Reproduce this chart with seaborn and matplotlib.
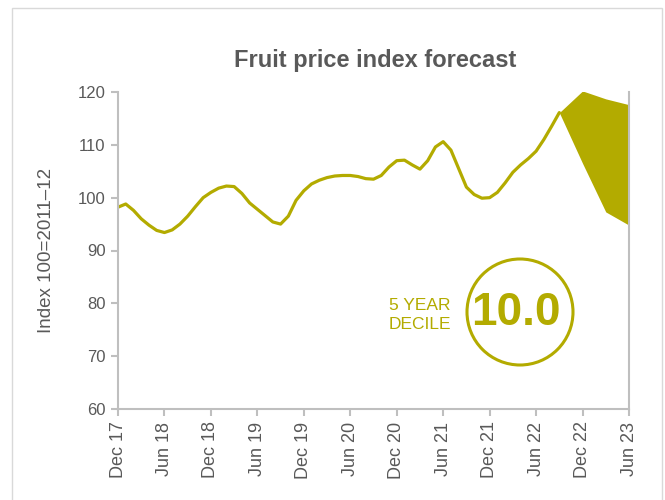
import numpy as np
import pandas as pd
import matplotlib
matplotlib.use("Agg")
import matplotlib.pyplot as plt
from matplotlib.patches import Ellipse, Rectangle
import seaborn as sns

# ---- data ----
# monthly index values, Dec 17 .. Sep 22
index_values = [98.2, 98.8, 97.6, 96.0, 94.8, 93.8, 93.4, 93.9, 95.0, 96.5,
                98.3, 100.0, 101.0, 101.8, 102.2, 102.1, 100.8, 99.0, 97.8, 96.6,
                95.4, 95.0, 96.5, 99.5, 101.3, 102.6, 103.3, 103.8, 104.1, 104.2,
                104.2, 104.0, 103.6, 103.5, 104.2, 105.8, 107.0, 107.1, 106.2, 105.4,
                107.0, 109.6, 110.6, 109.0, 105.5, 102.0, 100.6, 99.9, 100.0, 101.0,
                102.8, 104.8, 106.2, 107.4, 108.8, 111.0, 113.5, 116.1]
# forecast fan (quarterly): Sep 22, Dec 22, Mar 23, Jun 23 (month offsets from Dec 17)
fan_months = [57, 60, 63, 66]
fan_upper = [116.1, 120.2, 118.7, 117.6]
fan_lower = [116.1, 106.5, 97.3, 94.8]
tick_labels = ["Dec 17", "Jun 18", "Dec 18", "Jun 19", "Dec 19", "Jun 20",
               "Dec 20", "Jun 21", "Dec 21", "Jun 22", "Dec 22", "Jun 23"]
y_ticks = [60, 70, 80, 90, 100, 110, 120]
title = "Fruit price index forecast"
y_label = "Index 100=2011\u201312"
decile_value = "10.0"
decile_label = "5 YEAR\nDECILE"

OLIVE = "#b3ab00"
GREY_TXT = "#595959"
GREY_AX = "#bfbfbf"

sns.set_style("white")
plt.rcParams["font.family"] = ["Liberation Sans", "DejaVu Sans"]

df = pd.DataFrame({"month": np.arange(len(index_values)), "value": index_values})

fig = plt.figure(figsize=(6.65, 5.0), dpi=100)
W, H = 665, 500
ax = fig.add_axes([118 / W, 1 - 409 / H, (629 - 118) / W, (409 - 92) / H])

sns.lineplot(data=df, x="month", y="value", ax=ax, color=OLIVE, linewidth=2.3)
ax.fill_between(fan_months, fan_lower, fan_upper, color=OLIVE, linewidth=0)

ax.set_xlim(0, 66)
ax.set_ylim(60, 120)
ax.set_xticks(np.arange(0, 67, 6))
ax.set_xticklabels(tick_labels, rotation=90, fontsize=13, color=GREY_TXT)
ax.set_yticks(y_ticks)
ax.set_yticklabels([str(v) for v in y_ticks], fontsize=12, color=GREY_TXT)
ax.tick_params(axis="both", direction="out", length=5, width=1.5, color=GREY_AX,
               left=True, bottom=True, pad=4)
ax.set_xlabel("")
ax.set_ylabel(y_label, fontsize=13.5, color=GREY_TXT)
ax.yaxis.set_label_coords((55 - 118) / (629 - 118), 0.5)

for side in ["left", "bottom", "right"]:
    ax.spines[side].set_visible(True)
    ax.spines[side].set_color(GREY_AX)
    ax.spines[side].set_linewidth(1.5)
ax.spines["top"].set_visible(False)

# frame
fig.patches.append(Rectangle((12 / W, -0.05), (662 - 12) / W, 1.05 - 8 / H,
                             transform=fig.transFigure, fill=False,
                             edgecolor="#d9d9d9", linewidth=1.0, zorder=0))

fig.text(375 / W, 1 - 61 / H, title, ha="center", va="center",
         fontsize=17, fontweight="bold", color=GREY_TXT)

# decile circle
fig.patches.append(Ellipse((520 / W, 1 - 312 / H), 106 / W, 106 / H,
                           transform=fig.transFigure, fill=False,
                           edgecolor=OLIVE, linewidth=2.2, zorder=5))
fig.text(516 / W, 1 - 313 / H, decile_value, ha="center", va="center",
         fontsize=33, fontweight="bold", color=OLIVE)
fig.text(451 / W, 1 - 315 / H, decile_label, ha="right", va="center",
         fontsize=12.5, color=OLIVE, linespacing=1.35)

fig.savefig("out.png", dpi=100)
